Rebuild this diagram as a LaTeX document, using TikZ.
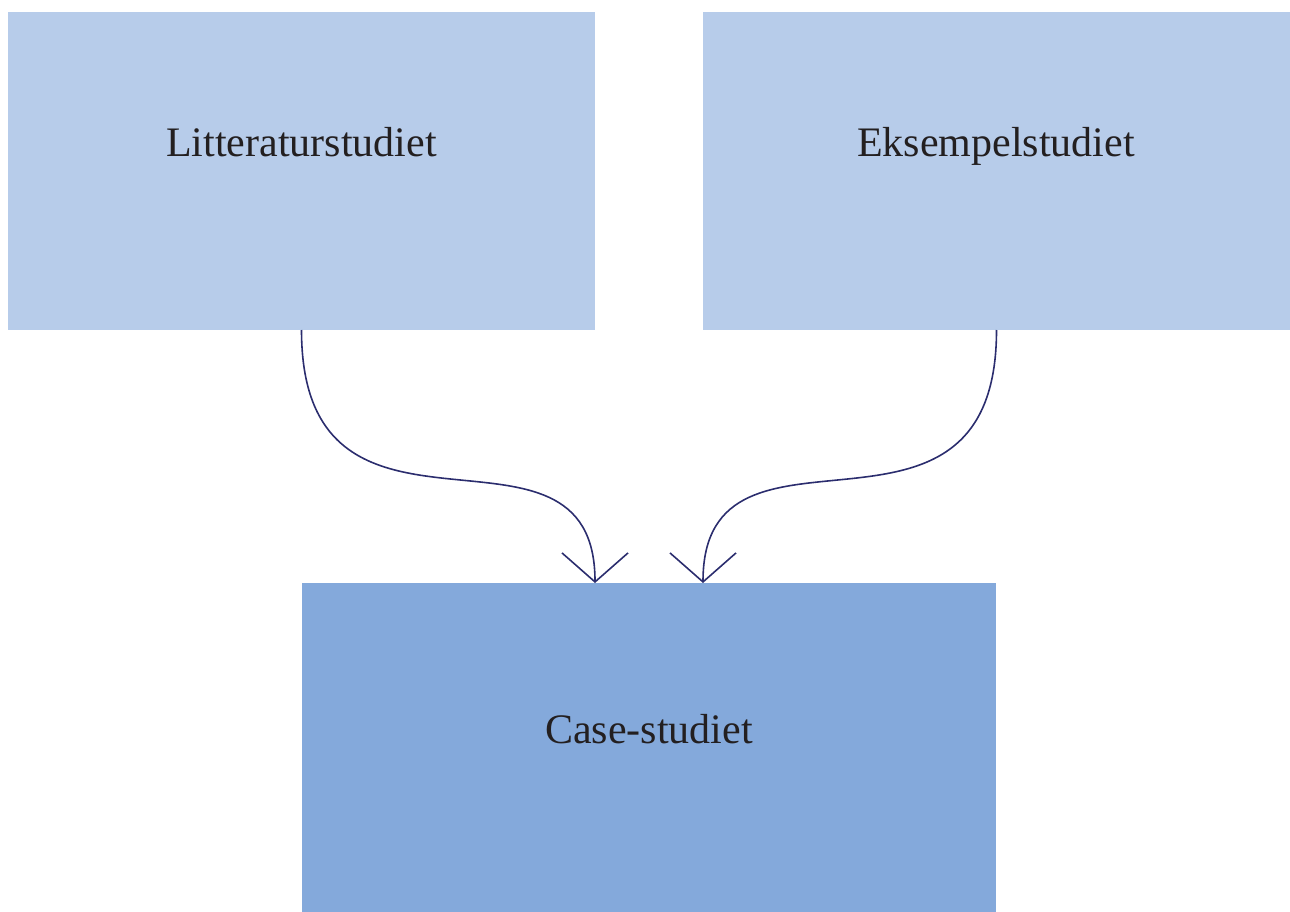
\documentclass[tikz,border=0pt]{standalone}
\usepackage{fontspec}
\setmainfont{Liberation Serif}
\usetikzlibrary{arrows.meta}
\definecolor{lightbox}{HTML}{B7CCEA}
\definecolor{darkbox}{HTML}{84A9DB}
\definecolor{navy}{HTML}{2B2D6E}
\definecolor{txt}{HTML}{231F20}
\tikzset{
  box/.style={rectangle, inner sep=0pt, outer sep=0pt, anchor=north west},
  lbl/.style={anchor=base, inner sep=0pt, text=txt, font=\fontsize{42}{50}\selectfont},
  conn/.style={draw=navy, line width=1.6pt, -{Straight Barb[length=29pt, width=66pt, line width=1.6pt]}}
}
\begin{document}
\begin{tikzpicture}[x=1pt,y=-1pt]
\useasboundingbox (0,0) rectangle (1290,912);
\node[box, fill=lightbox, minimum width=587pt, minimum height=318pt] (b1) at (8,12) {};
\node[box, fill=lightbox, minimum width=587pt, minimum height=318pt] (b2) at (703,12) {};
\node[box, fill=darkbox, minimum width=694pt, minimum height=330pt] (b3) at (302,583) {};
\node[lbl] (t1) at (301.5,157) {Litteraturstudiet};
\node[lbl] (t2) at (996,157) {Eksempelstudiet};
\node[lbl] (t3) at (649,743) {Case-studiet};
\coordinate (e1) at (b1.south east |- b3.north);
\coordinate (e2) at (b2.south west |- b3.north);
\draw[conn] (b1.south) .. controls +(0,251) and +(0,-191) .. (e1);
\draw[conn] (b2.south) .. controls +(0,251) and +(0,-191) .. (e2);
\end{tikzpicture}
\end{document}
